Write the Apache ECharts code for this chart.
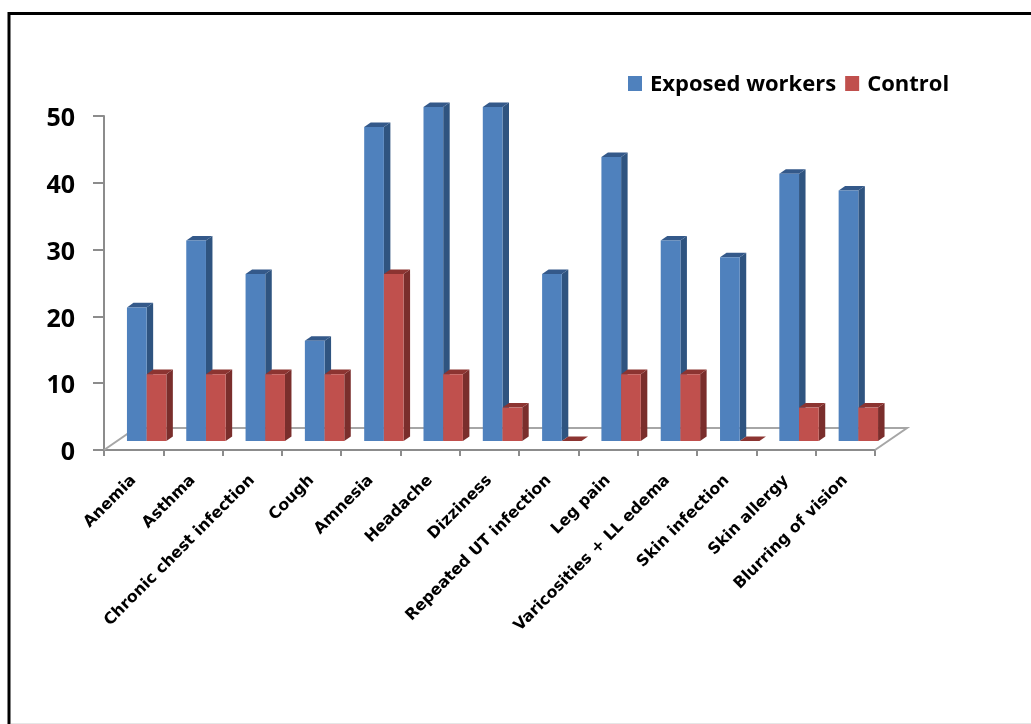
<!DOCTYPE html>
<html><head><meta charset="utf-8">
<style>html,body{margin:0;padding:0;background:#fff}#c{width:1031px;height:724px}</style>
<script src="https://cdn.jsdelivr.net/npm/echarts@6/dist/echarts.min.js"></script>
</head><body><div id="c"></div>
<script>
const categories = ["Anemia","Asthma","Chronic chest infection","Cough","Amnesia","Headache","Dizziness","Repeated UT infection","Leg pain","Varicosities + LL edema","Skin infection","Skin allergy","Blurring of vision"];
const exposed = [20,30,25,15,47,50,50,25,42.5,30,27.5,40,37.5];
const control = [10,10,10,10,25,10,5,0,10,10,0,5,5];
const yTicks = [0,10,20,30,40,50];

const font = '"Open Sans", "Noto Sans", sans-serif';
const labelFont = '"DejaVu Sans", sans-serif';
const SHIFT_X = 13, SHIFT_Y = -9, DX = 6.5, DY = -4.6, BAR = 19.7;

function bar3d(front, side, top, slot) {
  return function (params, api) {
    const v = api.value(1);
    const base = api.coord([api.value(0), 0]);
    const tip = api.coord([api.value(0), v]);
    const cx = base[0] + SHIFT_X;
    const x0 = cx + slot * BAR, x1 = x0 + BAR;
    const yb = base[1] + SHIFT_Y, yt = tip[1] + SHIFT_Y;
    const poly = (pts, fill) => ({type:'polygon', shape:{points:pts}, style:{fill:fill, stroke:null}});
    return {type:'group', children:[
      poly([[x1,yb],[x1+DX,yb+DY],[x1+DX,yt+DY],[x1,yt]], side),
      poly([[x0,yt],[x0+DX,yt+DY],[x1+DX,yt+DY],[x1,yt]], top),
      v > 0 ? poly([[x0,yt],[x1,yt],[x1,yb],[x0,yb]], front) : {type:'group', children:[]}
    ]};
  };
}

function floorItem(params, api) {
  const cs = params.coordSys;
  const bx = cs.x, by = cs.y + cs.height, ex = cs.x + cs.width;
  return {type:'polyline', shape:{points:[[bx,by],[bx+32,by-22],[ex+32,by-22],[ex,by]]},
    style:{fill:null, stroke:'#a6a6a6', lineWidth:2}, silent:true};
}

const chart = echarts.init(document.getElementById('c'), null, {renderer:'canvas'});
chart.setOption({
  animation:false,
  backgroundColor:'#fff',
  graphic:[
    {type:'polyline', shape:{points:[[9,724],[9,13.5],[1031,13.5]]}, style:{fill:null,stroke:'#000',lineWidth:3}, z:-1},
    {type:'line', shape:{x1:11,y1:723.5,x2:1031,y2:723.5}, style:{stroke:'#e6e6e6',lineWidth:1}, z:-1}
  ],
  grid:{left:104,right:156,top:116,bottom:274,containLabel:false},
  legend:{left:623,top:69,itemWidth:14,itemHeight:15,itemGap:9,icon:'rect',
    data:['Exposed workers','Control'],
    formatter:n=>'{a|'+n+'}',
    textStyle:{fontFamily:font,fontWeight:'bold',fontSize:22,color:'#000',
      rich:{a:{fontFamily:font,fontWeight:'bold',fontSize:22,color:'#000',padding:[3,0,0,3]}}}},
  xAxis:{type:'category',data:categories,boundaryGap:true,
    axisLine:{lineStyle:{color:'#8c8c8c',width:2}},
    axisTick:{show:true,alignWithLabel:false,length:6,lineStyle:{color:'#8c8c8c',width:2}},
    axisLabel:{interval:0,rotate:45,margin:28,fontFamily:labelFont,fontWeight:'bold',fontSize:15.8,color:'#000'}},
  yAxis:{type:'value',min:0,max:50,interval:10,
    axisLine:{show:true,lineStyle:{color:'#8c8c8c',width:2}},
    axisTick:{show:true,length:11,lineStyle:{color:'#8c8c8c',width:2}},
    splitLine:{show:false},
    axisLabel:{margin:29,color:'#000',
      formatter:v=>yTicks.includes(v)?'{a|'+v+'}':'',
      rich:{a:{fontFamily:font,fontWeight:'bold',fontSize:25,color:'#000',padding:[6,0,0,0]}}}},
  series:[
    {type:'custom',name:'floor',silent:true,renderItem:floorItem,data:[[0,0]],z:1,encode:{x:0,y:1}},
    {type:'custom',name:'Exposed workers',itemStyle:{color:'#4F81BD'},z:2,
      renderItem:bar3d('#4F81BD','#2F5480','#34598A',-1),
      data:exposed.map((v,i)=>[i,v]),encode:{x:0,y:1}},
    {type:'custom',name:'Control',itemStyle:{color:'#C0504D'},z:3,
      renderItem:bar3d('#C0504D','#7A2E2C','#8C3431',0),
      data:control.map((v,i)=>[i,v]),encode:{x:0,y:1}}
  ]
});
</script></body></html>
